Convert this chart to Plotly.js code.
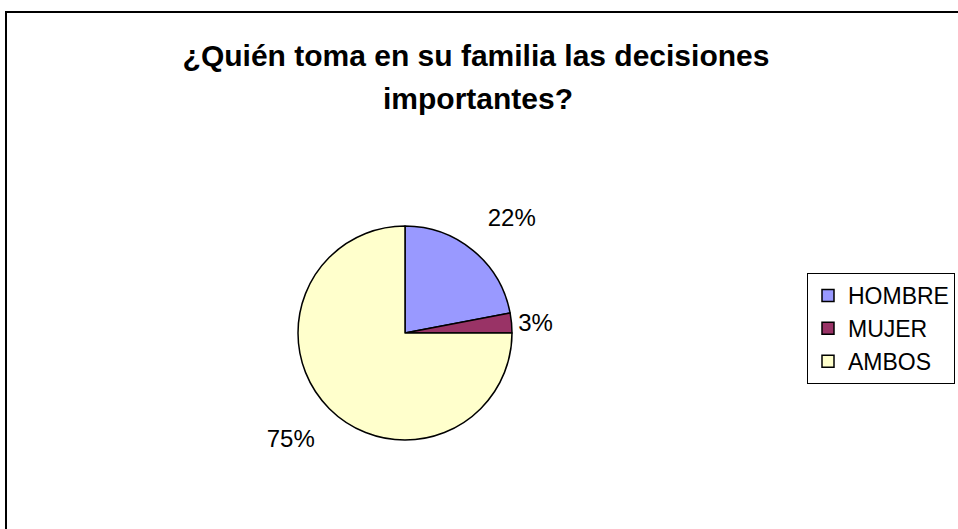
<!DOCTYPE html>
<html>
<head>
<meta charset="utf-8">
<script src="https://cdn.plot.ly/plotly-3.0.1.min.js"></script>
<style>
  html, body { margin: 0; padding: 0; background: #fff; }
  #wrap { position: relative; width: 958px; height: 529px; overflow: hidden; }
  #chart { position: absolute; left: 0; top: 0; width: 958px; height: 529px; }
  #frame { position: absolute; left: 5px; top: 11px; width: 1000px; height: 600px;
           border-left: 2px solid #000; border-top: 2px solid #000; pointer-events: none; }
</style>
</head>
<body>
<div id="wrap">
  <div id="chart"></div>
  <div id="frame"></div>
</div>
<script>
const categories = ["HOMBRE", "MUJER", "AMBOS"];
const values = [22, 3, 75];
const colors = ["#9999FF", "#993366", "#FFFFCC"];
const titleLine1 = "¿Quién toma en su familia las decisiones";
const titleLine2 = "importantes?";

const FONT = "Liberation Sans, Arial, sans-serif";

const trace = {
  type: "pie",
  labels: categories.map(c => c),
  values: values,
  sort: false,
  direction: "clockwise",
  rotation: 0,
  marker: { colors: colors, line: { color: "#000", width: 1.5 } },
  texttemplate: ["%{percent:.0%}<br> ", "%{percent:.0%}", " <br>%{percent:.0%}"],
  textposition: "outside",
  textfont: { family: FONT, size: 24, color: "#000" },
  outsidetextfont: { family: FONT, size: 24, color: "#000" },
  domain: { x: [298/958, 512/958], y: [1 - 440/529, 1 - 226/529] },
  hoverinfo: "label+percent",
  showlegend: true
};

const layout = {
  width: 958, height: 529,
  margin: { l: 0, r: 0, t: 0, b: 0 },
  paper_bgcolor: "#fff",
  plot_bgcolor: "#fff",
  font: { family: FONT, color: "#000" },
  title: {
    text: "<b>" + titleLine1 + "</b>",
    font: { family: FONT, size: 30, color: "#000" },
    x: 476/958, xanchor: "center",
    y: 1 - 55/529, yanchor: "middle",
    xref: "container", yref: "container"
  },
  annotations: [{
    text: "<b>" + titleLine2 + "</b>",
    font: { family: FONT, size: 30, color: "#000" },
    x: 478/958, xref: "paper", xanchor: "center",
    y: 1 - 98/529, yref: "paper", yanchor: "middle",
    showarrow: false
  }],
  legend: {
    x: 807/958, xanchor: "left",
    y: 1 - 273/529, yanchor: "top",
    bgcolor: "#fff",
    bordercolor: "#000",
    borderwidth: 1,
    font: { family: FONT, size: 23, color: "#000" },
    traceorder: "normal"
  },
  showlegend: true
};

Plotly.newPlot("chart", [trace], layout, { displayModeBar: false, staticPlot: true });
</script>
</body>
</html>
